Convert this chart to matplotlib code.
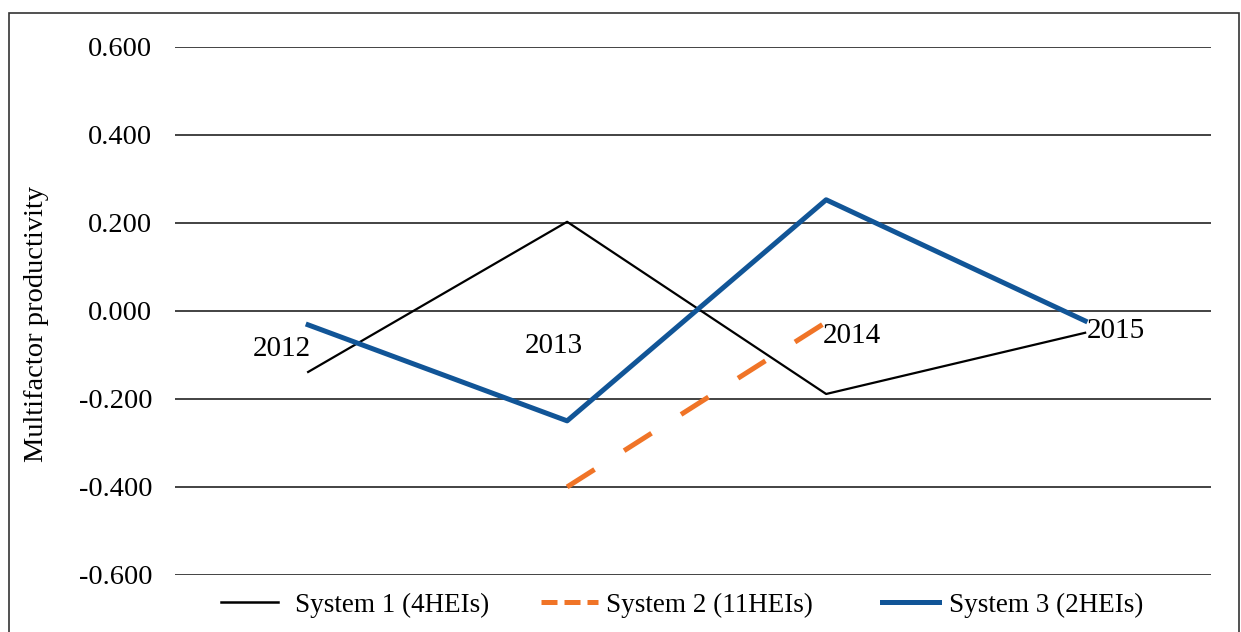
import matplotlib
matplotlib.use("Agg")
import matplotlib.pyplot as plt
from matplotlib.patches import Rectangle
from matplotlib.lines import Line2D

years = ["2012", "2013", "2014", "2015"]
system1 = [-0.139, 0.202, -0.189, -0.050]
system2 = [None, -0.400, -0.026, None]
system3 = [-0.032, -0.250, 0.252, -0.023]
labels = ["System 1 (4HEIs)", "System 2 (11HEIs)", "System 3 (2HEIs)"]
yticks = [0.6, 0.4, 0.2, 0.0, -0.2, -0.4, -0.6]

plt.rcParams["font.family"] = ["Liberation Serif", "DejaVu Serif"]
plt.rcParams["font.size"] = 20.5

fig = plt.figure(figsize=(12.41, 6.32), dpi=100)
ax = fig.add_axes([175/1241, 57/632, 1036/1241, 528.5/632])

black, orange, blue = "black", "#f07427", "#115597"

x = list(range(len(years)))
ax.plot(x, system1, color=black, lw=1.6)
x2 = [i for i, v in enumerate(system2) if v is not None]
y2 = [v for v in system2 if v is not None]
ax.plot(x2, y2, color=orange, lw=3.6, dashes=(6.5, 7))
ax.plot(x, system3, color=blue, lw=3.6)

# category labels sit inside the plot near the zero line
offs = [(-0.10, -0.086), (-0.05, -0.080), (0.10, -0.057), (0.12, -0.045)]
for i, yr in enumerate(years):
    ax.text(i + offs[i][0], offs[i][1], yr, ha="center", va="center", fontsize=21)

ax.set_xlim(-0.514, 3.486)
ax.set_ylim(-0.6, 0.6)
ax.set_yticks(yticks)
ax.set_yticklabels([f"{v:.3f}" for v in yticks])
ax.set_xticks([])
ax.tick_params(axis="y", length=0, pad=16.5)
ax.grid(axis="y", color="#222222", lw=1.2)
ax.set_axisbelow(True)
for s in ax.spines.values():
    s.set_visible(False)
ax.set_ylabel("Multifactor productivity", fontsize=20.5)
ax.yaxis.set_label_coords(-0.122, 0.475)

# legend entries placed one by one
handles = [
    Line2D([], [], color=black, lw=1.8),
    Line2D([], [], color=orange, lw=3.6, dashes=(3.2, 1.4)),
    Line2D([], [], color=blue, lw=3.6),
]
starts = [221, 541, 882]
pads = [0.65, 0.3, 0.37]
for h, lab, x0, p in zip(handles, labels, starts, pads):
    fig.legend(handles=[h], labels=[lab], loc="center left",
               bbox_to_anchor=(x0/1241, 1 - 605/632), frameon=False,
               borderpad=0, borderaxespad=0, handlelength=2.1,
               handletextpad=p, fontsize=19.5)

fig.add_artist(Rectangle((9/1241, -0.1), 1230/1241, 1.1 - 13/632, transform=fig.transFigure,
                         fill=False, ec="#333333", lw=1.2))

fig.savefig("out.png", dpi=100)
